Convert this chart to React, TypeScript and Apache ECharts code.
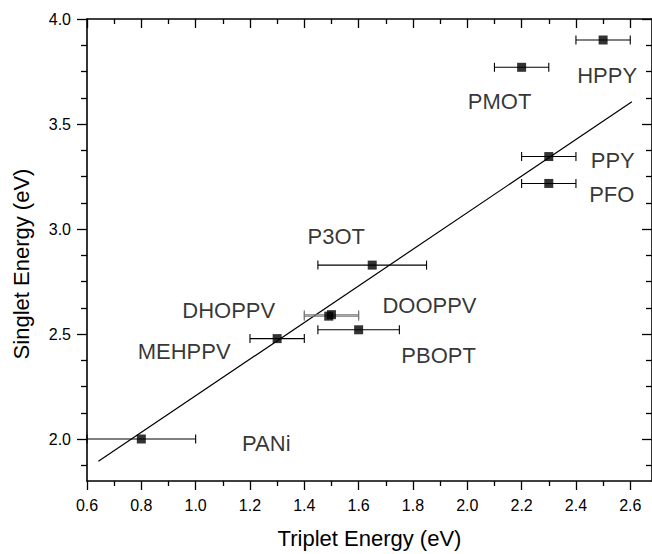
import React, { useEffect, useRef } from "react";
import * as echarts from "echarts";

// ---- data ----
const materials = ["PANi", "MEHPPV", "DHOPPV", "DOOPPV", "PBOPT", "P3OT", "PPY", "PFO", "PMOT", "HPPY"];
const tripletEnergy = [0.8, 1.3, 1.49, 1.5, 1.6, 1.65, 2.3, 2.3, 2.2, 2.5];
const singletEnergy = [2.0, 2.478, 2.585, 2.592, 2.52, 2.828, 3.345, 3.217, 3.77, 3.9];
const tripletErrLow = [0.6, 1.2, 1.4, 1.4, 1.45, 1.45, 2.2, 2.2, 2.1, 2.4];
const tripletErrHigh = [1.0, 1.4, 1.6, 1.6, 1.75, 1.85, 2.4, 2.4, 2.3, 2.6];
const fitLineX = [0.642, 2.606];
const fitLineY = [1.894, 3.606];

const xMajorTicks = [0.6, 0.8, 1.0, 1.2, 1.4, 1.6, 1.8, 2.0, 2.2, 2.4, 2.6];
const xMinorTicks = [0.7, 0.9, 1.1, 1.3, 1.5, 1.7, 1.9, 2.1, 2.3, 2.5];
const yMajorTicks = [2.0, 2.5, 3.0, 3.5, 4.0];
const yMinorTicks = [1.875, 2.125, 2.25, 2.375, 2.625, 2.75, 2.875, 3.125, 3.25, 3.375, 3.625, 3.75, 3.875];

// ---- styling (pixel offsets of the text labels relative to their points) ----
const labelOffsets: Record<string, [number, number]> = {
  PANi: [125, 4],
  MEHPPV: [-93, 13],
  DHOPPV: [-100, -6],
  DOOPPV: [98, -9],
  PBOPT: [80, 26],
  P3OT: [-36, -29],
  PPY: [64, 4],
  PFO: [63, 11],
  PMOT: [-22, 34],
  HPPY: [4, 35],
};
const errColors: Record<string, string> = { DHOPPV: "#777", DOOPPV: "#777" };

const FONT = "'Liberation Sans', Arial, Helvetica, sans-serif";

export default function App() {
  const ref = useRef<HTMLDivElement>(null);
  useEffect(() => {
    if (!ref.current) return;
    const chart = echarts.init(ref.current, undefined, { renderer: "svg" });
    const xMin = 0.6, xMax = 2.68, yMin = 1.8, yMax = 4.0;
    const fmt = (v: number) => v.toFixed(1);

    const mkX = (pos: "bottom" | "top", major: boolean, main: boolean) => ({
      type: "value",
      position: pos,
      min: xMin,
      max: xMax,
      axisLine: { show: main, onZero: false, lineStyle: { color: "#000", width: 1.6 } },
      axisTick: {
        show: true,
        inside: pos === "top",
        length: major ? 9 : 5,
        customValues: major ? xMajorTicks : xMinorTicks,
        lineStyle: { color: "#000", width: 1.3 },
      },
      axisLabel: pos === "bottom" && major
        ? { show: true, customValues: xMajorTicks, formatter: fmt, margin: 16, fontSize: 16, color: "#000", fontFamily: FONT }
        : { show: false },
      splitLine: { show: false },
      ...(pos === "bottom" && major
        ? {
            name: "Triplet Energy (eV)",
            nameLocation: "middle",
            nameGap: 46,
            nameTextStyle: { fontSize: 22, color: "#000", fontFamily: FONT },
          }
        : {}),
    });
    const mkY = (pos: "left" | "right", major: boolean, main: boolean) => ({
      type: "value",
      position: pos,
      min: yMin,
      max: yMax,
      axisLine: { show: main, onZero: false, lineStyle: { color: "#000", width: 1.6 } },
      axisTick: {
        show: true,
        inside: pos === "right",
        length: major ? 10 : 6,
        customValues: major ? yMajorTicks : yMinorTicks,
        lineStyle: { color: "#000", width: 1.3 },
      },
      axisLabel: pos === "left" && major
        ? { show: true, customValues: yMajorTicks, formatter: fmt, margin: 16, fontSize: 16, color: "#000", fontFamily: FONT }
        : { show: false },
      splitLine: { show: false },
    });

    const points = materials.map((name, i) => ({
      name,
      value: [tripletEnergy[i], singletEnergy[i]],
      label: { offset: labelOffsets[name] },
    }));
    const errData = materials.map((name, i) => ({
      name,
      value: [tripletErrLow[i], tripletErrHigh[i], singletEnergy[i]],
    }));
    const fitData = fitLineX.map((x, i) => [x, fitLineY[i]]);

    chart.setOption({
      animation: false,
      backgroundColor: "#fff",
      textStyle: { fontFamily: FONT },
      grid: { left: 87, top: 19, width: 568, height: 464, containLabel: false },
      xAxis: [mkX("bottom", true, true), mkX("bottom", false, false), mkX("top", true, true), mkX("top", false, false)],
      yAxis: [mkY("left", true, true), mkY("left", false, false), mkY("right", true, true), mkY("right", false, false)],
      graphic: [
        {
          type: "text",
          x: 21,
          y: 264,
          rotation: Math.PI / 2,
          style: {
            text: "Singlet Energy (eV)",
            font: `22px ${FONT}`,
            fill: "#000",
            textAlign: "center",
            textVerticalAlign: "middle",
          },
        },
      ],
      series: [
        {
          type: "line",
          xAxisIndex: 0,
          yAxisIndex: 0,
          data: fitData,
          symbol: "none",
          lineStyle: { color: "#000", width: 1.2 },
          z: 2,
        },
        {
          type: "custom",
          xAxisIndex: 0,
          yAxisIndex: 0,
          data: errData,
          z: 3,
          renderItem: (params: any, api: any) => {
            const lo = api.coord([api.value(0), api.value(2)]);
            const hi = api.coord([api.value(1), api.value(2)]);
            const name = materials[params.dataIndex];
            const stroke = errColors[name] || "#000";
            const cap = 4.5;
            const st = { stroke, lineWidth: 1.1 };
            return {
              type: "group",
              children: [
                { type: "line", shape: { x1: lo[0], y1: lo[1], x2: hi[0], y2: hi[1] }, style: st },
                { type: "line", shape: { x1: lo[0], y1: lo[1] - cap, x2: lo[0], y2: lo[1] + cap }, style: st },
                { type: "line", shape: { x1: hi[0], y1: hi[1] - cap, x2: hi[0], y2: hi[1] + cap }, style: st },
              ],
            };
          },
        },
        {
          type: "scatter",
          xAxisIndex: 0,
          yAxisIndex: 0,
          data: points,
          symbol: "rect",
          symbolSize: 9,
          itemStyle: { color: "#000" },
          z: 4,
          label: {
            show: true,
            position: "inside",
            formatter: (p: any) => p.name,
            fontSize: 22,
            color: "#000",
            fontFamily: FONT,
          },
          emphasis: { disabled: true },
        },
      ],
    });
    return () => chart.dispose();
  }, []);

  return (
    <div
      ref={ref}
      style={{ position: "absolute", left: 0, top: 0, width: 652, height: 554, background: "#fff" }}
    />
  );
}
